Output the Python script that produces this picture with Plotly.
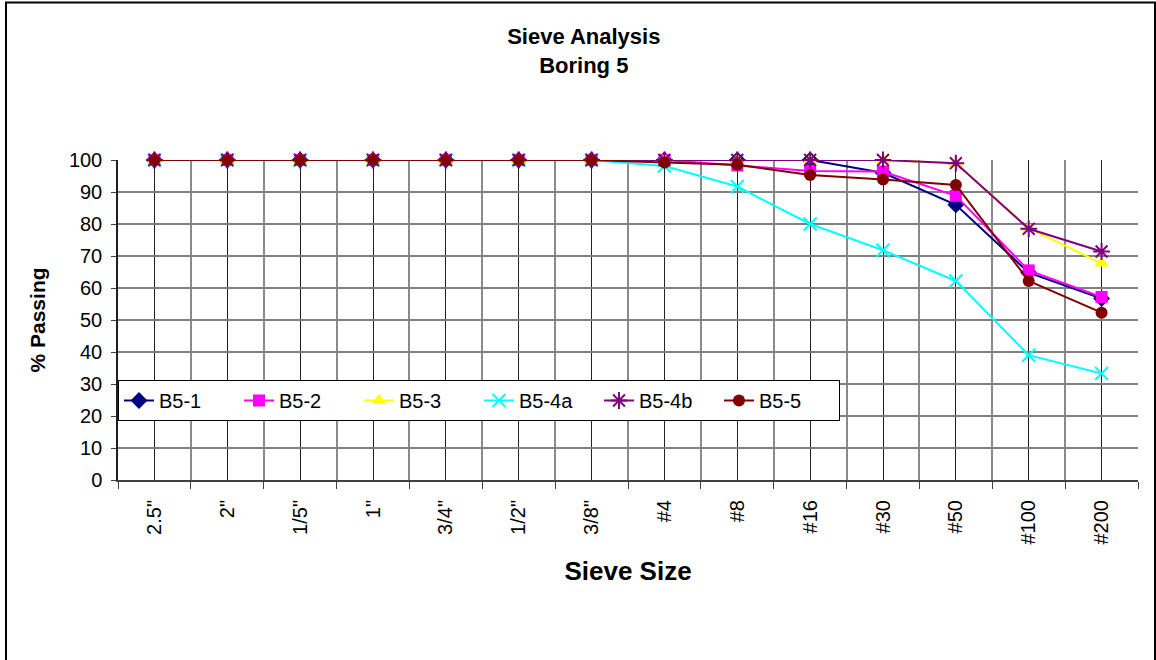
import plotly.graph_objects as go

# ---------------- data ----------------
categories = ['2.5"', '2"', '1/5"', '1"', '3/4"', '1/2"', '3/8"',
              '#4', '#8', '#16', '#30', '#50', '#100', '#200']

b5_1 = [100, 100, 100, 100, 100, 100, 100, 100, 100, 100, 96, 86, 64.8, 56.7]
b5_2 = [100, 100, 100, 100, 100, 100, 100, 100, 98.3, 96.6, 96.4, 88.8, 65.5, 57.2]
b5_3 = [100, 100, 100, 100, 100, 100, 100, 100, 100, 100, 100, 99, 78.7, 67.7]
b5_4a = [100, 100, 100, 100, 100, 100, 100, 98.1, 91.7, 80, 71.8, 62.2, 39, 33.3]
b5_4b = [100, 100, 100, 100, 100, 100, 100, 100, 100, 100, 100, 99, 78.5, 71.4]
b5_5 = [100, 100, 100, 100, 100, 100, 100, 99.2, 98.5, 95.3, 93.9, 92.2, 62.2, 52.3]

series_names = ["B5-1", "B5-2", "B5-3", "B5-4a", "B5-4b", "B5-5"]
series_values = [b5_1, b5_2, b5_3, b5_4a, b5_4b, b5_5]

y_ticks = [0, 10, 20, 30, 40, 50, 60, 70, 80, 90, 100]

# ---------------- styles ----------------
styles = {
    "B5-1": dict(color="#000080", symbol="diamond", size=13, lw=0),
    "B5-2": dict(color="#FF00FF", symbol="square", size=12, lw=0),
    "B5-3": dict(color="#FFFF00", symbol="triangle-up", size=13, lw=0),
    "B5-4a": dict(color="#00FFFF", symbol="x-thin-open", size=13, lw=2),
    "B5-4b": dict(color="#800080", symbol="asterisk-open", size=14, lw=2),
    "B5-5": dict(color="#800000", symbol="circle", size=12, lw=0),
}

FONT = "Liberation Sans, Arial, sans-serif"
x_idx = list(range(len(categories)))

fig = go.Figure()
for name, vals in zip(series_names, series_values):
    s = styles[name]
    fig.add_trace(go.Scatter(
        x=x_idx, y=vals, name=name, mode="lines+markers",
        line=dict(color=s["color"], width=2),
        marker=dict(symbol=s["symbol"], size=s["size"], color=s["color"],
                    line=dict(color=s["color"], width=s["lw"])),
        cliponaxis=False,
    ))

boundaries = [i - 0.5 for i in range(len(categories) + 1)]

fig.update_layout(
    width=1156, height=660,
    margin=dict(l=118, r=18, t=160, b=180, autoexpand=False),
    paper_bgcolor="white", plot_bgcolor="white",
    font=dict(family=FONT, color="black"),
    title=dict(
        text="Sieve Analysis<br>Boring 5",
        font=dict(family=FONT, size=22, color="black", weight="bold"),
        x=0.505, xanchor="center", xref="container",
        y=1 - 44 / 660, yanchor="top", yref="container",
    ),
    xaxis=dict(
        range=[-0.5, len(categories) - 0.5],
        tickmode="array", tickvals=x_idx, ticktext=categories,
        tickangle=-90, tickfont=dict(family=FONT, size=20, color="black"),
        ticks="", ticklabelstandoff=10,
        showgrid=True, gridcolor="#222222", gridwidth=1,
        minor=dict(tickmode="array", tickvals=boundaries, showgrid=True,
                   gridcolor="#8a8a8a", gridwidth=1.5,
                   ticks="outside", ticklen=7, tickcolor="#404040", tickwidth=1),
        showline=True, linecolor="#404040", linewidth=2,
        zeroline=False,
        title=dict(text="Sieve Size", standoff=18,
                   font=dict(family=FONT, size=26, color="black", weight="bold")),
        fixedrange=True,
    ),
    yaxis=dict(
        range=[0, 100], tickmode="array", tickvals=y_ticks,
        tickfont=dict(family=FONT, size=20, color="black"),
        ticks="outside", ticklen=5, tickcolor="#404040", tickwidth=1,
        ticklabelstandoff=5,
        showgrid=True, gridcolor="#808080", gridwidth=2,
        showline=True, linecolor="#202020", linewidth=1.5,
        zeroline=False,
        title=dict(text="% Passing", standoff=18,
                   font=dict(family=FONT, size=21, color="black", weight="bold")),
        fixedrange=True,
    ),
    legend=dict(
        orientation="h", x=0, xanchor="left",
        y=(480 - 380) / 320, yanchor="top",
        bgcolor="white", bordercolor="black", borderwidth=1,
        font=dict(family=FONT, size=20, color="black"),
        entrywidth=75, entrywidthmode="pixels",
    ),
    shapes=[dict(
        type="rect", xref="paper", yref="paper",
        x0=(6 - 118) / 1020, x1=(1155 - 118) / 1020,
        y0=(480 - 670) / 320, y1=(480 - 2.5) / 320,
        line=dict(color="black", width=2), fillcolor="rgba(0,0,0,0)",
        layer="above",
    )],
)

fig.write_html("out.html")
